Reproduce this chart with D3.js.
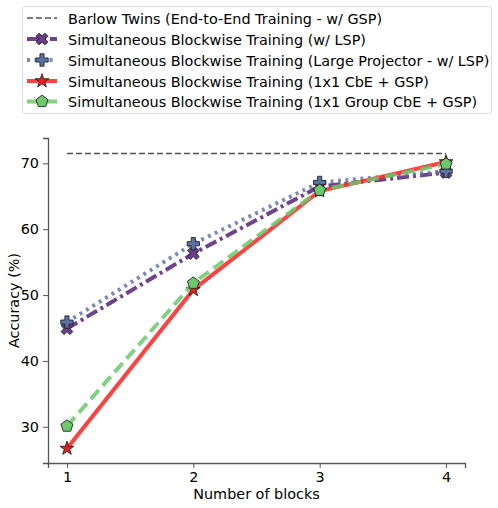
<!DOCTYPE html>
<html>
<head>
<meta charset="utf-8">
<script src="https://cdn.jsdelivr.net/npm/d3@7"></script>
<style>
  body { margin: 0; background: #fff; }
  text { font-family: "DejaVu Sans", sans-serif; }
</style>
</head>
<body>
<div id="chart"></div>
<script>
// number of blocks on the x axis
const blocks = [1, 2, 3, 4];
const xTicks = [1, 2, 3, 4];
const yTicks = [30, 40, 50, 60, 70];

// accuracy values
const barlowTwins = [71.5, 71.5];
const blockwiseLSP = [44.9, 56.3, 66.5, 68.6];
const largeProjectorLSP = [45.9, 57.8, 67.1, 68.8];
const cbeGSP = [26.7, 50.8, 65.8, 70.2];
const groupCbeGSP = [30.1, 51.8, 65.9, 69.9];

const seriesNames = [
  "Barlow Twins (End-to-End Training - w/ GSP)",
  "Simultaneous Blockwise Training (w/ LSP)",
  "Simultaneous Blockwise Training (Large Projector - w/ LSP)",
  "Simultaneous Blockwise Training (1x1 CbE + GSP)",
  "Simultaneous Blockwise Training (1x1 Group CbE + GSP)"
];

const width = 498, height = 508;
const margin = {top: 138, right: 33, bottom: 45, left: 48};
const fontSize = 14.4;

const svg = d3.select("#chart").append("svg")
  .attr("width", width)
  .attr("height", height);

const x = d3.scaleLinear().domain([0.85, 4.15]).range([margin.left, width - margin.right]);
const y = d3.scaleLinear().domain([24.5, 73.85]).range([height - margin.bottom, margin.top]);

// axes (only left + bottom spines)
const xAxis = svg.append("g")
  .attr("transform", `translate(0,${height - margin.bottom})`)
  .call(d3.axisBottom(x).tickValues(xTicks).tickFormat(d3.format("d")).tickSize(5).tickPadding(4));
const yAxis = svg.append("g")
  .attr("transform", `translate(${margin.left},0)`)
  .call(d3.axisLeft(y).tickValues(yTicks).tickSize(5).tickPadding(4));

[xAxis, yAxis].forEach(a => {
  a.select(".domain").attr("stroke", "#555").attr("stroke-width", 1.3);
  a.selectAll(".tick line").attr("stroke", "#555").attr("stroke-width", 1);
  a.selectAll(".tick text").attr("font-size", fontSize).attr("fill", "#000")
    .style("font-family", "DejaVu Sans, sans-serif");
});

svg.append("text")
  .attr("x", (margin.left + width - margin.right) / 2)
  .attr("y", 499)
  .attr("text-anchor", "middle")
  .attr("font-size", fontSize)
  .text("Number of blocks");

svg.append("text")
  .attr("transform", `translate(19,${(margin.top + height - margin.bottom) / 2}) rotate(-90)`)
  .attr("text-anchor", "middle")
  .attr("font-size", fontSize)
  .text("Accuracy (%)");

// marker shapes
const crossPath = d3.symbol().type(d3.symbolCross).size(85)();
const starPath = d3.symbol().type(d3.symbolStar).size(60)();
function pentagon(r) {
  const pts = d3.range(5).map(i => {
    const a = -Math.PI / 2 + i * 2 * Math.PI / 5;
    return [r * Math.cos(a), r * Math.sin(a)];
  });
  return "M" + pts.map(p => p.join(",")).join("L") + "Z";
}

const series = [
  {name: seriesNames[1], values: blockwiseLSP, color: "#5e2f7f", opacity: 0.9, width: 4,
   dash: "12,4,3,4", marker: crossPath, rotate: 45, fill: "#6c3d8e"},
  {name: seriesNames[2], values: largeProjectorLSP, color: "#5c6da0", opacity: 0.8, width: 4,
   dash: "3,4.5", marker: crossPath, rotate: 0, fill: "#5a72a6"},
  {name: seriesNames[3], values: cbeGSP, color: "#ff2020", opacity: 0.85, width: 4,
   dash: null, marker: starPath, rotate: 0, fill: "#ee1c1c"},
  {name: seriesNames[4], values: groupCbeGSP, color: "#6cc86c", opacity: 0.85, width: 4,
   dash: "12,6", marker: pentagon(6.3), rotate: 0, fill: "#6cc86c"}
];

const line = d3.line().x((d, i) => x(blocks[i])).y(d => y(d));

// baseline: end-to-end Barlow Twins
svg.append("line")
  .attr("x1", x(blocks[0])).attr("x2", x(blocks[blocks.length - 1]))
  .attr("y1", y(barlowTwins[0])).attr("y2", y(barlowTwins[1]))
  .attr("stroke", "#333").attr("stroke-opacity", 0.85)
  .attr("stroke-width", 1.6).attr("stroke-dasharray", "6,3");

series.forEach(s => {
  svg.append("path")
    .datum(s.values)
    .attr("d", line)
    .attr("fill", "none")
    .attr("stroke", s.color)
    .attr("stroke-opacity", s.opacity)
    .attr("stroke-width", s.width)
    .attr("stroke-dasharray", s.dash);
  svg.selectAll(null)
    .data(s.values)
    .enter()
    .append("path")
    .attr("d", s.marker)
    .attr("transform", (d, i) => `translate(${x(blocks[i])},${y(d)}) rotate(${s.rotate})`)
    .attr("fill", s.fill)
    .attr("stroke", "#222")
    .attr("stroke-width", 0.9);
});

// legend
const legend = svg.append("g");
legend.append("rect")
  .attr("x", 22.5).attr("y", 6.5).attr("width", 469).attr("height", 107)
  .attr("rx", 3)
  .attr("fill", "#fff").attr("fill-opacity", 0.8)
  .attr("stroke", "#ddd").attr("stroke-width", 1);

const rowY = [18, 39, 60, 81, 101.5];
legend.append("line")
  .attr("x1", 27).attr("x2", 57).attr("y1", rowY[0]).attr("y2", rowY[0])
  .attr("stroke", "#333").attr("stroke-opacity", 0.85)
  .attr("stroke-width", 1.6).attr("stroke-dasharray", "6,3");
series.forEach((s, i) => {
  const ly = rowY[i + 1];
  legend.append("line")
    .attr("x1", 27).attr("x2", 57).attr("y1", ly).attr("y2", ly)
    .attr("stroke", s.color).attr("stroke-opacity", s.opacity)
    .attr("stroke-width", s.width).attr("stroke-dasharray", s.dash);
  legend.append("path")
    .attr("d", s.marker)
    .attr("transform", `translate(42,${ly}) rotate(${s.rotate})`)
    .attr("fill", s.fill).attr("stroke", "#222").attr("stroke-width", 0.9);
});
seriesNames.forEach((n, i) => {
  legend.append("text")
    .attr("x", 68).attr("y", rowY[i] + 5.5)
    .attr("font-size", fontSize)
    .text(n);
});
</script>
</body>
</html>
